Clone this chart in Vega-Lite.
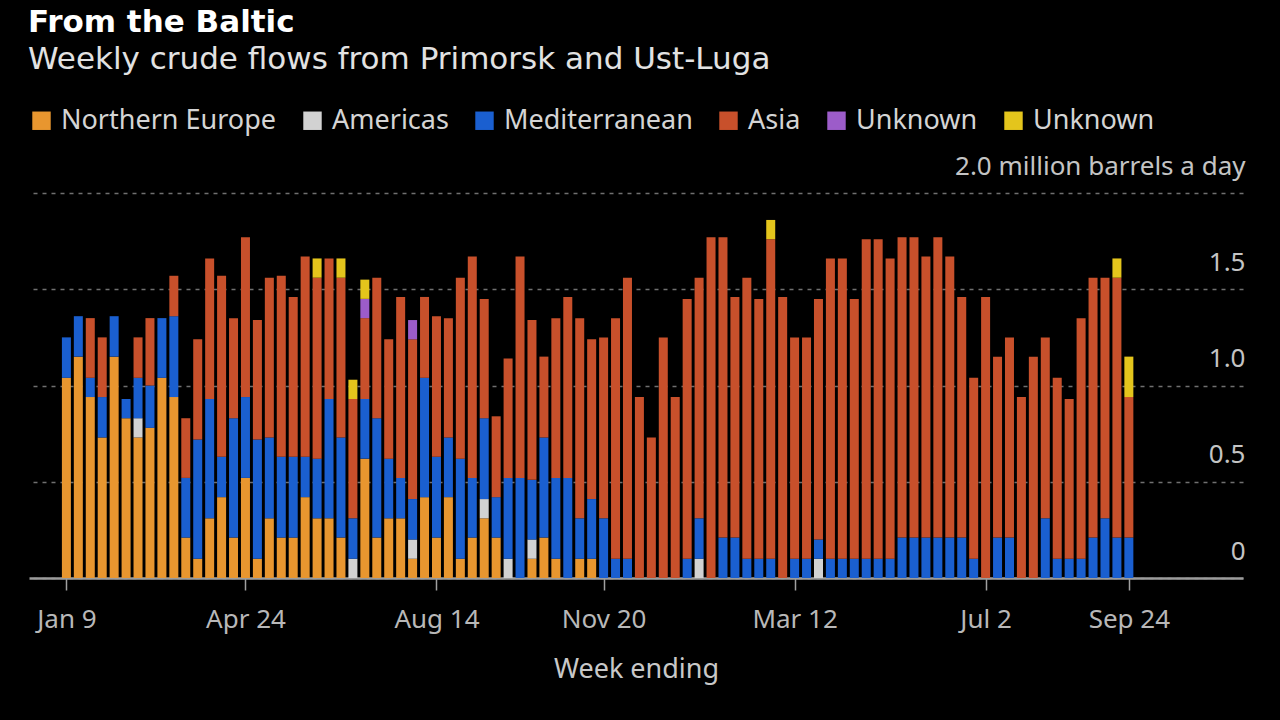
{
  "$schema": "https://vega.github.io/schema/vega-lite/v6.json",
  "width": 1214,
  "height": 385,
  "autosize": "none",
  "padding": {"left": 29, "top": 193, "right": 37, "bottom": 142},
  "background": "#000000",
  "title": {
    "text": "From the Baltic",
    "subtitle": "Weekly crude flows from Primorsk and Ust-Luga",
    "anchor": "start",
    "frame": "group",
    "offset": 31,
    "dx": -1,
    "font": "DejaVu Sans",
    "fontSize": 31,
    "fontWeight": "bold",
    "color": "#ffffff",
    "subtitleFont": "DejaVu Sans",
    "subtitleFontSize": 31,
    "subtitleColor": "#e2e2e2",
    "subtitlePadding": 6
  },
  "data": {
    "values": [
      {"w": "2022-01-09", "NE": 1.04, "Am": 0, "Med": 0.21, "Asia": 0, "U1": 0, "U2": 0},
      {"w": "2022-01-16", "NE": 1.15, "Am": 0, "Med": 0.21, "Asia": 0, "U1": 0, "U2": 0},
      {"w": "2022-01-23", "NE": 0.94, "Am": 0, "Med": 0.1, "Asia": 0.31, "U1": 0, "U2": 0},
      {"w": "2022-01-30", "NE": 0.73, "Am": 0, "Med": 0.21, "Asia": 0.31, "U1": 0, "U2": 0},
      {"w": "2022-02-06", "NE": 1.15, "Am": 0, "Med": 0.21, "Asia": 0, "U1": 0, "U2": 0},
      {"w": "2022-02-13", "NE": 0.83, "Am": 0, "Med": 0.1, "Asia": 0, "U1": 0, "U2": 0},
      {"w": "2022-02-20", "NE": 0.73, "Am": 0.1, "Med": 0.21, "Asia": 0.21, "U1": 0, "U2": 0},
      {"w": "2022-02-27", "NE": 0.78, "Am": 0, "Med": 0.22, "Asia": 0.35, "U1": 0, "U2": 0},
      {"w": "2022-03-06", "NE": 1.04, "Am": 0, "Med": 0.31, "Asia": 0, "U1": 0, "U2": 0},
      {"w": "2022-03-13", "NE": 0.94, "Am": 0, "Med": 0.42, "Asia": 0.21, "U1": 0, "U2": 0},
      {"w": "2022-03-20", "NE": 0.21, "Am": 0, "Med": 0.31, "Asia": 0.31, "U1": 0, "U2": 0},
      {"w": "2022-03-27", "NE": 0.1, "Am": 0, "Med": 0.62, "Asia": 0.52, "U1": 0, "U2": 0},
      {"w": "2022-04-03", "NE": 0.31, "Am": 0, "Med": 0.62, "Asia": 0.73, "U1": 0, "U2": 0},
      {"w": "2022-04-10", "NE": 0.42, "Am": 0, "Med": 0.21, "Asia": 0.94, "U1": 0, "U2": 0},
      {"w": "2022-04-17", "NE": 0.21, "Am": 0, "Med": 0.62, "Asia": 0.52, "U1": 0, "U2": 0},
      {"w": "2022-04-24", "NE": 0.52, "Am": 0, "Med": 0.42, "Asia": 0.83, "U1": 0, "U2": 0},
      {"w": "2022-05-01", "NE": 0.1, "Am": 0, "Med": 0.62, "Asia": 0.62, "U1": 0, "U2": 0},
      {"w": "2022-05-08", "NE": 0.31, "Am": 0, "Med": 0.42, "Asia": 0.83, "U1": 0, "U2": 0},
      {"w": "2022-05-15", "NE": 0.21, "Am": 0, "Med": 0.42, "Asia": 0.94, "U1": 0, "U2": 0},
      {"w": "2022-05-22", "NE": 0.21, "Am": 0, "Med": 0.42, "Asia": 0.83, "U1": 0, "U2": 0},
      {"w": "2022-05-29", "NE": 0.42, "Am": 0, "Med": 0.21, "Asia": 1.04, "U1": 0, "U2": 0},
      {"w": "2022-06-05", "NE": 0.31, "Am": 0, "Med": 0.31, "Asia": 0.94, "U1": 0, "U2": 0.1},
      {"w": "2022-06-12", "NE": 0.31, "Am": 0, "Med": 0.62, "Asia": 0.73, "U1": 0, "U2": 0},
      {"w": "2022-06-19", "NE": 0.21, "Am": 0, "Med": 0.52, "Asia": 0.83, "U1": 0, "U2": 0.1},
      {"w": "2022-06-26", "NE": 0, "Am": 0.1, "Med": 0.21, "Asia": 0.62, "U1": 0, "U2": 0.1},
      {"w": "2022-07-03", "NE": 0.62, "Am": 0, "Med": 0.31, "Asia": 0.42, "U1": 0.1, "U2": 0.1},
      {"w": "2022-07-10", "NE": 0.21, "Am": 0, "Med": 0.62, "Asia": 0.73, "U1": 0, "U2": 0},
      {"w": "2022-07-17", "NE": 0.31, "Am": 0, "Med": 0.31, "Asia": 0.62, "U1": 0, "U2": 0},
      {"w": "2022-07-24", "NE": 0.31, "Am": 0, "Med": 0.21, "Asia": 0.94, "U1": 0, "U2": 0},
      {"w": "2022-07-31", "NE": 0.1, "Am": 0.1, "Med": 0.21, "Asia": 0.83, "U1": 0.1, "U2": 0},
      {"w": "2022-08-07", "NE": 0.42, "Am": 0, "Med": 0.62, "Asia": 0.42, "U1": 0, "U2": 0},
      {"w": "2022-08-14", "NE": 0.21, "Am": 0, "Med": 0.42, "Asia": 0.73, "U1": 0, "U2": 0},
      {"w": "2022-08-21", "NE": 0.42, "Am": 0, "Med": 0.31, "Asia": 0.62, "U1": 0, "U2": 0},
      {"w": "2022-08-28", "NE": 0.1, "Am": 0, "Med": 0.52, "Asia": 0.94, "U1": 0, "U2": 0},
      {"w": "2022-09-04", "NE": 0.21, "Am": 0, "Med": 0.31, "Asia": 1.15, "U1": 0, "U2": 0},
      {"w": "2022-09-11", "NE": 0.31, "Am": 0.1, "Med": 0.42, "Asia": 0.62, "U1": 0, "U2": 0},
      {"w": "2022-09-18", "NE": 0.21, "Am": 0, "Med": 0.21, "Asia": 0.42, "U1": 0, "U2": 0},
      {"w": "2022-09-25", "NE": 0, "Am": 0.1, "Med": 0.42, "Asia": 0.62, "U1": 0, "U2": 0},
      {"w": "2022-10-02", "NE": 0, "Am": 0, "Med": 0.52, "Asia": 1.15, "U1": 0, "U2": 0},
      {"w": "2022-10-09", "NE": 0.1, "Am": 0.1, "Med": 0.31, "Asia": 0.83, "U1": 0, "U2": 0},
      {"w": "2022-10-16", "NE": 0.21, "Am": 0, "Med": 0.52, "Asia": 0.42, "U1": 0, "U2": 0},
      {"w": "2022-10-23", "NE": 0.1, "Am": 0, "Med": 0.42, "Asia": 0.83, "U1": 0, "U2": 0},
      {"w": "2022-10-30", "NE": 0, "Am": 0, "Med": 0.52, "Asia": 0.94, "U1": 0, "U2": 0},
      {"w": "2022-11-06", "NE": 0.1, "Am": 0, "Med": 0.21, "Asia": 1.04, "U1": 0, "U2": 0},
      {"w": "2022-11-13", "NE": 0.1, "Am": 0, "Med": 0.31, "Asia": 0.83, "U1": 0, "U2": 0},
      {"w": "2022-11-20", "NE": 0, "Am": 0, "Med": 0.31, "Asia": 0.94, "U1": 0, "U2": 0},
      {"w": "2022-11-27", "NE": 0, "Am": 0, "Med": 0.1, "Asia": 1.25, "U1": 0, "U2": 0},
      {"w": "2022-12-04", "NE": 0, "Am": 0, "Med": 0.1, "Asia": 1.46, "U1": 0, "U2": 0},
      {"w": "2022-12-11", "NE": 0, "Am": 0, "Med": 0, "Asia": 0.94, "U1": 0, "U2": 0},
      {"w": "2022-12-18", "NE": 0, "Am": 0, "Med": 0, "Asia": 0.73, "U1": 0, "U2": 0},
      {"w": "2022-12-25", "NE": 0, "Am": 0, "Med": 0, "Asia": 1.25, "U1": 0, "U2": 0},
      {"w": "2023-01-01", "NE": 0, "Am": 0, "Med": 0, "Asia": 0.94, "U1": 0, "U2": 0},
      {"w": "2023-01-08", "NE": 0, "Am": 0, "Med": 0.1, "Asia": 1.35, "U1": 0, "U2": 0},
      {"w": "2023-01-15", "NE": 0, "Am": 0.1, "Med": 0.21, "Asia": 1.25, "U1": 0, "U2": 0},
      {"w": "2023-01-22", "NE": 0, "Am": 0, "Med": 0, "Asia": 1.77, "U1": 0, "U2": 0},
      {"w": "2023-01-29", "NE": 0, "Am": 0, "Med": 0.21, "Asia": 1.56, "U1": 0, "U2": 0},
      {"w": "2023-02-05", "NE": 0, "Am": 0, "Med": 0.21, "Asia": 1.25, "U1": 0, "U2": 0},
      {"w": "2023-02-12", "NE": 0, "Am": 0, "Med": 0.1, "Asia": 1.46, "U1": 0, "U2": 0},
      {"w": "2023-02-19", "NE": 0, "Am": 0, "Med": 0.1, "Asia": 1.35, "U1": 0, "U2": 0},
      {"w": "2023-02-26", "NE": 0, "Am": 0, "Med": 0.1, "Asia": 1.66, "U1": 0, "U2": 0.1},
      {"w": "2023-03-05", "NE": 0, "Am": 0, "Med": 0, "Asia": 1.46, "U1": 0, "U2": 0},
      {"w": "2023-03-12", "NE": 0, "Am": 0, "Med": 0.1, "Asia": 1.15, "U1": 0, "U2": 0},
      {"w": "2023-03-19", "NE": 0, "Am": 0, "Med": 0.1, "Asia": 1.15, "U1": 0, "U2": 0},
      {"w": "2023-03-26", "NE": 0, "Am": 0.1, "Med": 0.1, "Asia": 1.25, "U1": 0, "U2": 0},
      {"w": "2023-04-02", "NE": 0, "Am": 0, "Med": 0.1, "Asia": 1.56, "U1": 0, "U2": 0},
      {"w": "2023-04-09", "NE": 0, "Am": 0, "Med": 0.1, "Asia": 1.56, "U1": 0, "U2": 0},
      {"w": "2023-04-16", "NE": 0, "Am": 0, "Med": 0.1, "Asia": 1.35, "U1": 0, "U2": 0},
      {"w": "2023-04-23", "NE": 0, "Am": 0, "Med": 0.1, "Asia": 1.66, "U1": 0, "U2": 0},
      {"w": "2023-04-30", "NE": 0, "Am": 0, "Med": 0.1, "Asia": 1.66, "U1": 0, "U2": 0},
      {"w": "2023-05-07", "NE": 0, "Am": 0, "Med": 0.1, "Asia": 1.56, "U1": 0, "U2": 0},
      {"w": "2023-05-14", "NE": 0, "Am": 0, "Med": 0.21, "Asia": 1.56, "U1": 0, "U2": 0},
      {"w": "2023-05-21", "NE": 0, "Am": 0, "Med": 0.21, "Asia": 1.56, "U1": 0, "U2": 0},
      {"w": "2023-05-28", "NE": 0, "Am": 0, "Med": 0.21, "Asia": 1.46, "U1": 0, "U2": 0},
      {"w": "2023-06-04", "NE": 0, "Am": 0, "Med": 0.21, "Asia": 1.56, "U1": 0, "U2": 0},
      {"w": "2023-06-11", "NE": 0, "Am": 0, "Med": 0.21, "Asia": 1.46, "U1": 0, "U2": 0},
      {"w": "2023-06-18", "NE": 0, "Am": 0, "Med": 0.21, "Asia": 1.25, "U1": 0, "U2": 0},
      {"w": "2023-06-25", "NE": 0, "Am": 0, "Med": 0.1, "Asia": 0.94, "U1": 0, "U2": 0},
      {"w": "2023-07-02", "NE": 0, "Am": 0, "Med": 0, "Asia": 1.46, "U1": 0, "U2": 0},
      {"w": "2023-07-09", "NE": 0, "Am": 0, "Med": 0.21, "Asia": 0.94, "U1": 0, "U2": 0},
      {"w": "2023-07-16", "NE": 0, "Am": 0, "Med": 0.21, "Asia": 1.04, "U1": 0, "U2": 0},
      {"w": "2023-07-23", "NE": 0, "Am": 0, "Med": 0, "Asia": 0.94, "U1": 0, "U2": 0},
      {"w": "2023-07-30", "NE": 0, "Am": 0, "Med": 0, "Asia": 1.15, "U1": 0, "U2": 0},
      {"w": "2023-08-06", "NE": 0, "Am": 0, "Med": 0.31, "Asia": 0.94, "U1": 0, "U2": 0},
      {"w": "2023-08-13", "NE": 0, "Am": 0, "Med": 0.1, "Asia": 0.94, "U1": 0, "U2": 0},
      {"w": "2023-08-20", "NE": 0, "Am": 0, "Med": 0.1, "Asia": 0.83, "U1": 0, "U2": 0},
      {"w": "2023-08-27", "NE": 0, "Am": 0, "Med": 0.1, "Asia": 1.25, "U1": 0, "U2": 0},
      {"w": "2023-09-03", "NE": 0, "Am": 0, "Med": 0.21, "Asia": 1.35, "U1": 0, "U2": 0},
      {"w": "2023-09-10", "NE": 0, "Am": 0, "Med": 0.31, "Asia": 1.25, "U1": 0, "U2": 0},
      {"w": "2023-09-17", "NE": 0, "Am": 0, "Med": 0.21, "Asia": 1.35, "U1": 0, "U2": 0.1},
      {"w": "2023-09-24", "NE": 0, "Am": 0, "Med": 0.21, "Asia": 0.73, "U1": 0, "U2": 0.21}
    ]
  },
  "transform": [
    {"fold": ["NE", "Am", "Med", "Asia", "U1", "U2"], "as": ["dest", "mbd"]},
    {"window": [{"op": "row_number", "as": "layer"}], "groupby": ["w"]}
  ],
  "mark": {"type": "bar", "size": 9},
  "encoding": {
    "x": {
      "field": "w",
      "type": "temporal",
      "scale": {
        "type": "utc",
        "domain": [
          {"year": 2021, "month": 12, "date": 21, "utc": true},
          {"year": 2023, "month": 11, "date": 27, "utc": true}
        ]
      },
      "axis": {
        "values": [
          {"year": 2022, "month": 1, "date": 9, "utc": true},
          {"year": 2022, "month": 4, "date": 24, "utc": true},
          {"year": 2022, "month": 8, "date": 14, "utc": true},
          {"year": 2022, "month": 11, "date": 20, "utc": true},
          {"year": 2023, "month": 3, "date": 12, "utc": true},
          {"year": 2023, "month": 7, "date": 2, "utc": true},
          {"year": 2023, "month": 9, "date": 24, "utc": true}
        ],
        "format": "%b %-d",
        "grid": false,
        "labelFont": "Noto Sans",
        "labelFontSize": 26,
        "labelColor": "#b8b8b8",
        "labelPadding": 16,
        "labelFlush": false,
        "tickColor": "#a0a0a0",
        "tickSize": 12,
        "tickWidth": 1.5,
        "domainColor": "#9c9c9c",
        "domainWidth": 2.5,
        "title": "Week ending",
        "titleFont": "Noto Sans",
        "titleFontSize": 27,
        "titleFontWeight": "normal",
        "titleColor": "#c8c8c8",
        "titlePadding": 24
      }
    },
    "y": {
      "field": "mbd",
      "type": "quantitative",
      "stack": "zero",
      "scale": {"domain": [0, 2], "nice": false},
      "axis": {
        "orient": "right",
        "values": [0, 0.5, 1, 1.5, 2],
        "labelExpr": "datum.value == 2 ? '2.0 million barrels a day' : datum.value == 0 ? '0' : format(datum.value, '.1f')",
        "grid": true,
        "gridDash": [4, 5],
        "gridColor": "#707070",
        "gridWidth": 1.5,
        "domain": false,
        "ticks": false,
        "labelAlign": "right",
        "labelBaseline": "bottom",
        "labelOffset": -14,
        "labelPadding": 2,
        "labelLimit": 0,
        "labelFont": "Noto Sans",
        "labelFontSize": 26,
        "labelColor": "#c4c4c4",
        "title": null
      }
    },
    "order": {"field": "layer", "type": "quantitative", "sort": "ascending"},
    "color": {
      "field": "dest",
      "type": "nominal",
      "sort": ["NE", "Am", "Med", "Asia", "U1", "U2"],
      "scale": {
        "domain": ["NE", "Am", "Med", "Asia", "U1", "U2"],
        "range": ["#e8962f", "#d2d2d2", "#1a5fd0", "#c8502b", "#9c5cc9", "#e4c51c"]
      },
      "legend": {
        "orient": "none",
        "legendX": -1,
        "legendY": -86,
        "direction": "horizontal",
        "title": null,
        "symbolType": "square",
        "symbolSize": 340,
        "symbolStrokeWidth": 0,
        "labelFont": "Noto Sans",
        "labelFontSize": 27,
        "labelColor": "#d4d4d4",
        "labelOffset": 6,
        "columnPadding": 22,
        "labelLimit": 0,
        "labelExpr": "datum.label == 'NE' ? 'Northern Europe' : datum.label == 'Am' ? 'Americas' : datum.label == 'Med' ? 'Mediterranean' : datum.label == 'Asia' ? 'Asia' : 'Unknown'"
      }
    }
  },
  "config": {"view": {"stroke": null}}
}
